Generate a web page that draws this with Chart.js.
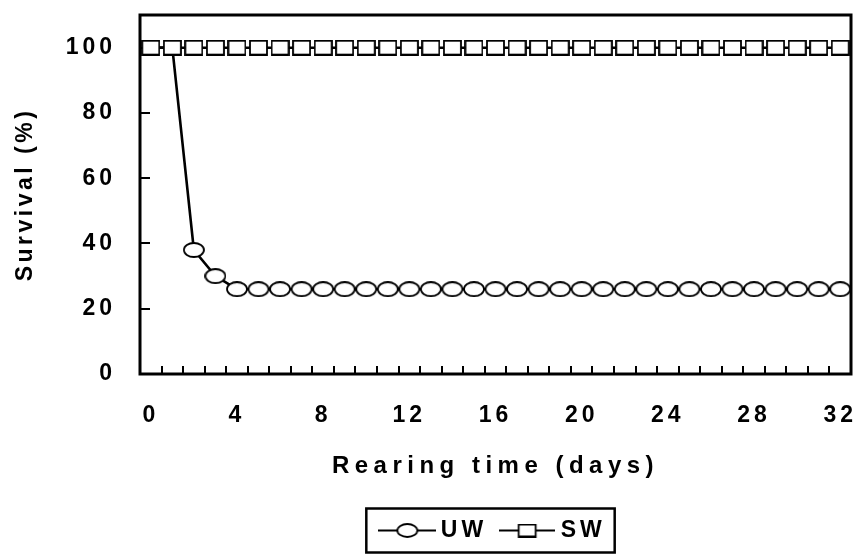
<!DOCTYPE html>
<html>
<head>
<meta charset="utf-8">
<script src="https://cdn.jsdelivr.net/npm/chart.js@4/dist/chart.umd.min.js"></script>
<style>
  html, body { margin: 0; padding: 0; background: #fff; }
  #wrap { width: 860px; height: 554px; }
</style>
</head>
<body>
<div id="wrap"><canvas id="survival-chart" width="860" height="554"></canvas></div>
<script>
// rearing time (days) and survival (%)
var days = ["0","1","2","3","4","5","6","7","8","9","10","11","12","13","14","15","16",
            "17","18","19","20","21","22","23","24","25","26","27","28","29","30","31","32"];
var uwSurvival = [100, 100, 38, 30, 26, 26, 26, 26, 26, 26, 26, 26, 26, 26, 26, 26, 26,
                  26, 26, 26, 26, 26, 26, 26, 26, 26, 26, 26, 26, 26, 26, 26, 26];
var swSurvival = [100, 100, 100, 100, 100, 100, 100, 100, 100, 100, 100, 100, 100, 100, 100, 100, 100,
                  100, 100, 100, 100, 100, 100, 100, 100, 100, 100, 100, 100, 100, 100, 100, 100];
var yTicks = [0, 20, 40, 60, 80, 100];
var seriesNames = ["UW", "SW"];

var FONT = "'Liberation Sans', Arial, sans-serif";

function makeMarker(w, h, shape, lineLen) {
  var c = document.createElement("canvas");
  var full = lineLen || w;
  c.width = full; c.height = h;
  var g = c.getContext("2d");
  var cx = full / 2, cy = h / 2;
  g.strokeStyle = "#000";
  if (lineLen) {
    g.lineWidth = 1.8;
    g.beginPath(); g.moveTo(0, cy); g.lineTo(full, cy); g.stroke();
  }
  g.fillStyle = "#fff";
  g.lineWidth = 1.8;
  g.beginPath();
  if (shape === "ellipse") {
    g.ellipse(cx, cy, w / 2 - 1, h / 2 - 1, 0, 0, Math.PI * 2);
  } else {
    g.rect(cx - w / 2 + 1, cy - h / 2 + 1, w - 2, h - 2);
  }
  g.fill(); g.stroke();
  return c;
}

var circlePoint = makeMarker(22, 16, "ellipse");
var squarePoint = makeMarker(19, 16, "rect");
var circleLegend = makeMarker(22, 15, "ellipse", 58);
var squareLegend = makeMarker(19, 14, "rect", 56);

function setSpacing(chart) {
  chart.ctx.letterSpacing = "4px";
}

var framePlugin = {
  id: "frame",
  beforeUpdate: setSpacing,
  beforeLayout: setSpacing,
  beforeDraw: setSpacing,
  afterLayout: function (chart) {
    var y = chart.scales.y, x = chart.scales.x;
    if (y && !y._titlePatched) {
      var origY = y.drawTitle;
      y.drawTitle = function () {
        this.ctx.letterSpacing = "3.5px";
        origY.apply(this, arguments);
        this.ctx.letterSpacing = "4px";
      };
      y._titlePatched = true;
    }
    if (x && !x._titlePatched) {
      var origX = x.drawTitle;
      x.drawTitle = function () {
        this.ctx.letterSpacing = "5.5px";
        origX.apply(this, arguments);
        this.ctx.letterSpacing = "4px";
      };
      x._titlePatched = true;
    }
  },
  afterDraw: function (chart) {
    var ctx = chart.ctx, a = chart.chartArea;
    ctx.save();
    ctx.strokeStyle = "#000";
    ctx.lineWidth = 3;
    ctx.strokeRect(a.left, a.top, a.right - a.left, a.bottom - a.top);
    var lg = chart.legend;
    if (lg && lg.legendHitBoxes.length) {
      var hb = lg.legendHitBoxes;
      var l = hb[0].left, r = hb[hb.length - 1].left + hb[hb.length - 1].width;
      var cy = hb[0].top + hb[0].height / 2;
      ctx.lineWidth = 2.5;
      ctx.strokeRect(l - 19, cy - 22, r - l + 28, 44);
    }
    ctx.restore();
  }
};

var CHART = document.getElementById("survival-chart");
var survivalChart = new Chart(CHART, {
  type: "line",
  data: {
    labels: days,
    datasets: [{
      label: seriesNames[1],
      data: swSurvival,
      borderColor: "#000",
      borderWidth: 2.5,
      pointStyle: squarePoint,
      tension: 0
    }, {
      label: seriesNames[0],
      data: uwSurvival,
      borderColor: "#000",
      borderWidth: 2.6,
      pointStyle: function (c) {
        // circles that sit under a square are not visible in the figure
        return uwSurvival[c.dataIndex] === swSurvival[c.dataIndex] ? false : circlePoint;
      },
      tension: 0
    }]
  },
  options: {
    responsive: false,
    animation: false,
    events: [],
    layout: { padding: { left: 0, right: 9, top: 15, bottom: 2 } },
    plugins: {
      tooltip: { enabled: false },
      legend: {
        position: "bottom",
        fullSize: false,
        labels: {
          usePointStyle: true,
          pointStyleWidth: 44,
          padding: 18,
          color: "#000",
          font: { family: FONT, size: 23, weight: "bold" },
          generateLabels: function () {
            return [
              { text: seriesNames[0], pointStyle: circleLegend, fontColor: "#000", lineWidth: 0, datasetIndex: 1 },
              { text: seriesNames[1], pointStyle: squareLegend, fontColor: "#000", lineWidth: 0, datasetIndex: 0 }
            ];
          }
        }
      }
    },
    scales: {
      x: {
        type: "category",
        offset: true,
        grid: {
          offset: true,
          drawOnChartArea: false,
          color: "#000",
          lineWidth: 2,
          tickLength: -8
        },
        border: { display: false },
        ticks: {
          autoSkip: false,
          maxRotation: 0,
          padding: 36,
          color: "#000",
          font: { family: FONT, size: 23, weight: "bold" },
          callback: function (v, i) { return i % 4 === 0 ? days[i] : ""; }
        },
        title: {
          display: true,
          text: "Rearing time (days)",
          color: "#000",
          font: { family: FONT, size: 24, weight: "bold" },
          padding: { top: 0, bottom: 20 }
        },
        afterFit: function (s) {
          s.height = 127;
          s.paddingLeft = 0;
          s.paddingRight = 0;
        }
      },
      y: {
        min: 0,
        max: 110,
        grid: {
          drawOnChartArea: false,
          color: "#000",
          lineWidth: 2,
          tickLength: -10
        },
        border: { display: false },
        afterBuildTicks: function (s) {
          s.ticks = yTicks.map(function (v) { return { value: v }; });
        },
        ticks: {
          padding: 34,
          color: "#000",
          font: { family: FONT, size: 23, weight: "bold" }
        },
        title: {
          display: true,
          text: "Survival (%)",
          color: "#000",
          font: { family: FONT, size: 23, weight: "bold" },
          padding: { top: 12, bottom: 0 }
        },
        afterFit: function (s) {
          s.width = 140;
          s.paddingTop = 0;
          s.paddingBottom = 0;
        }
      }
    }
  },
  plugins: [framePlugin]
});
</script>
</body>
</html>
